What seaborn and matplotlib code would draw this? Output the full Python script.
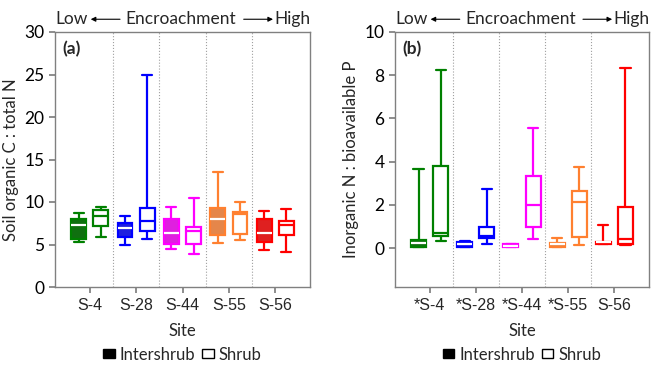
import numpy as np
import pandas as pd
import seaborn as sns
import matplotlib.pyplot as plt
from matplotlib.patches import Patch

# sites (low -> high encroachment) and their colours
sites = ["S-4", "S-28", "S-44", "S-55", "S-56"]
sites_b = ["*S-4", "*S-28", "*S-44", "*S-55", "S-56"]
site_colors = ["#008000", "#0000ff", "#ff00ff", "#ff8030", "#ff0000"]
types = ["Intershrub", "Shrub"]

# five-number summaries: [min, q1, median, q3, max]
cn_inter = [[5.3, 5.7, 7.3, 8.0, 8.7],
            [5.0, 5.9, 7.0, 7.5, 8.35],
            [4.5, 5.1, 6.4, 7.95, 9.4],
            [5.2, 6.15, 8.05, 9.3, 13.5],
            [4.35, 5.25, 6.4, 8.05, 8.95]]
cn_shrub = [[5.9, 7.2, 8.4, 9.1, 9.4],
            [5.6, 6.6, 7.8, 9.35, 25.0],
            [3.9, 5.05, 6.6, 7.1, 10.45],
            [5.55, 6.2, 8.6, 8.85, 9.95],
            [4.1, 6.1, 7.25, 7.8, 9.15]]
np_inter = [[0.03, 0.05, 0.23, 0.38, 3.66],
            [0.05, 0.07, 0.2, 0.3, 0.33],
            [0.04, 0.06, 0.12, 0.18, 0.2],
            [0.05, 0.07, 0.2, 0.22, 0.48],
            [0.18, 0.2, 0.26, 0.3, 1.06]]
np_shrub = [[0.34, 0.54, 0.72, 3.82, 8.24],
            [0.2, 0.45, 0.57, 0.97, 2.74],
            [0.42, 0.97, 2.0, 3.35, 5.58],
            [0.14, 0.5, 2.15, 2.63, 3.74],
            [0.15, 0.18, 0.42, 1.88, 8.33]]


def make_df(inter, shrub):
    rows = []
    for site, a, b in zip(sites, inter, shrub):
        for v in a:
            rows.append((site, "Intershrub", v))
        for v in b:
            rows.append((site, "Shrub", v))
    return pd.DataFrame(rows, columns=["Site", "Type", "value"])


sns.set_theme(style="ticks")
plt.rcParams["font.family"] = ["Lato", "DejaVu Sans"]
plt.rcParams["font.size"] = 11

fig = plt.figure(figsize=(6.52, 3.65), dpi=100)
ax_a = fig.add_axes([55 / 652, 1 - 287 / 365, 255 / 652, 255 / 365])
ax_b = fig.add_axes([395 / 652, 1 - 287 / 365, 254 / 652, 255 / 365])


def draw_panel(ax, df, ylabel, ylim, yticks, labels, tag):
    for site, c in zip(sites, site_colors):
        for t in types:
            sub = df[(df.Site == site) & (df.Type == t)]
            sns.boxplot(data=sub, x="Site", y="value", hue="Type",
                        order=sites, hue_order=types, dodge=True,
                        width=0.96, gap=0.33, whis=(0, 100),
                        palette={"Intershrub": c, "Shrub": "white"},
                        linecolor=c, linewidth=1.6, capwidths=0.22,
                        medianprops={"color": "white" if t == "Intershrub" else c},
                        showfliers=False, legend=False, ax=ax)
    ax.set_xlim(-0.75, 4.75)
    ax.set_ylim(*ylim)
    ax.set_yticks(yticks)
    ax.set_xticks(range(5))
    ax.set_xticklabels(labels, fontsize=11.5, family="Liberation Sans")
    ax.tick_params(axis="y", labelsize=12.5, colors="black", length=4, color="#808080")
    ax.tick_params(axis="x", length=4, color="#808080", pad=4)
    for s in ax.spines.values():
        s.set_visible(True)
        s.set_color("#808080")
        s.set_linewidth(1)
    for x in [0.5, 1.5, 2.5, 3.5]:
        ax.axvline(x, color="#a0a0a0", ls=":", lw=0.8, zorder=0)
    ax.set_ylabel(ylabel, fontsize=12)
    ax.set_xlabel("Site", fontsize=12, labelpad=7)
    ax.text(0.03, 0.965, tag, transform=ax.transAxes, fontsize=12.5,
            fontweight="bold", va="top", ha="left")

    # encroachment gradient header
    ax.text(0.0, 1.05, "Low", transform=ax.transAxes, ha="left", va="center", fontsize=12.5)
    ax.text(0.494, 1.05, "Encroachment", transform=ax.transAxes, ha="center", va="center", fontsize=12.5)
    ax.text(1.0, 1.05, "High", transform=ax.transAxes, ha="right", va="center", fontsize=12.5)
    arrow = dict(arrowstyle="-|>", color="black", lw=0.8, mutation_scale=7, shrinkA=0, shrinkB=0)
    ax.annotate("", xy=(0.14, 1.05), xytext=(0.255, 1.05), xycoords="axes fraction",
                textcoords="axes fraction", arrowprops=arrow, annotation_clip=False)
    ax.annotate("", xy=(0.855, 1.05), xytext=(0.74, 1.05), xycoords="axes fraction",
                textcoords="axes fraction", arrowprops=arrow, annotation_clip=False)

    handles = [Patch(facecolor="black", edgecolor="black"),
               Patch(facecolor="white", edgecolor="black")]
    ax.legend(handles, types, loc="center", bbox_to_anchor=(0.5, -0.265), ncol=2,
              frameon=False, fontsize=12, handlelength=0.7, handleheight=0.45,
              handletextpad=0.3, columnspacing=0.4)


draw_panel(ax_a, make_df(cn_inter, cn_shrub), "Soil organic C : total N",
           (0, 30), range(0, 31, 5), sites, "(a)")
draw_panel(ax_b, make_df(np_inter, np_shrub), "Inorganic N : bioavailable P",
           (-1.8, 10), range(0, 11, 2), sites_b, "(b)")

fig.savefig("out.png", dpi=100)
